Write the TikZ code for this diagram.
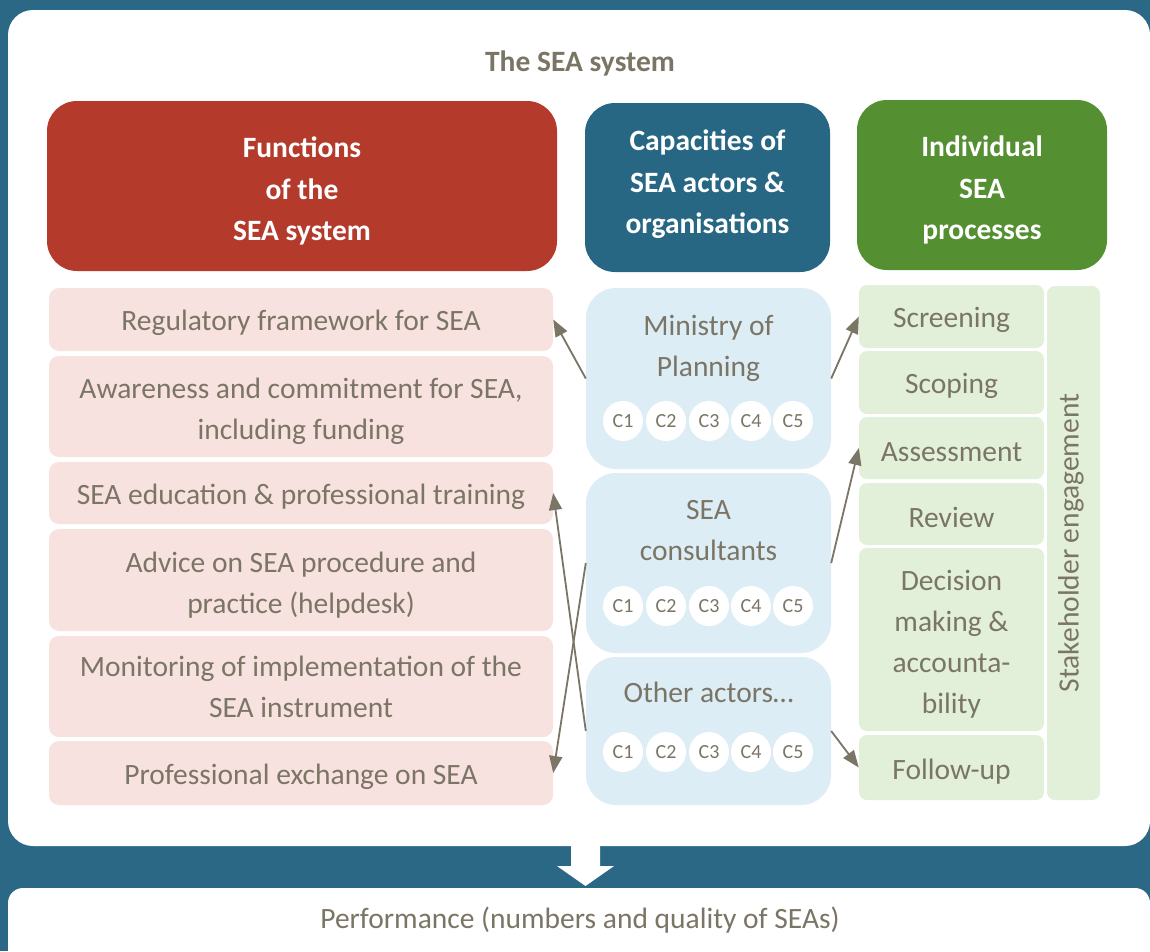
\documentclass[tikz,border=0pt]{standalone}
\usepackage{fontspec}
\setmainfont{Carlito}
\usetikzlibrary{arrows.meta,calc}
\definecolor{bgblue}{HTML}{2A6886}
\definecolor{hred}{HTML}{B43A2C}
\definecolor{hblue}{HTML}{286784}
\definecolor{hgreen}{HTML}{548F31}
\definecolor{lpink}{HTML}{F8E2E0}
\definecolor{lblue}{HTML}{DDEDF6}
\definecolor{lgreen}{HTML}{E2F0D9}
\definecolor{txtgray}{HTML}{7B7565}
\newcommand{\lowstrut}{\rule{0pt}{30pt}}
\begin{document}
\begin{tikzpicture}[x=1pt,y=-1pt,
  body/.style={inner sep=0pt, align=center, text=txtgray, font=\fontsize{29.5}{41}\selectfont},
  lowtext/.style={execute at begin node={\rule{0pt}{28pt}}},
  header/.style={rounded corners=30pt, inner sep=0pt},
  headtext/.style={inner sep=0pt, align=center, text=white, font=\fontsize{29.5}{41.5}\selectfont\bfseries},
  funcbox/.style={body, lowtext, fill=lpink, rounded corners=10pt, minimum width=504pt},
  actorbox/.style={fill=lblue, rounded corners=30pt, minimum width=245pt, inner sep=0pt},
  procbox/.style={body, lowtext, fill=lgreen, rounded corners=8pt, minimum width=185pt},
  capcircle/.style={circle, fill=white, minimum size=40pt, inner sep=0pt, text=txtgray, font=\fontsize{20}{22}\selectfont},
  conn/.style={draw=txtgray, line width=1.8pt, -{Triangle[length=17pt,width=13pt]}}
]
\useasboundingbox (0,0) rectangle (1150,951);
\clip (0,0) rectangle (1150,951);
\fill[bgblue] (0,0) rectangle (1150,951);
\fill[white, rounded corners=25pt] (8,10) rectangle (1150,846);
\fill[white, rounded corners=15pt] (8,888) rectangle (1150,990);
\fill[white] (571,846) -- (600,846) -- (600,866) -- (614,866) -- (585.5,886) -- (557,866) -- (571,866) -- cycle;

\node[text=txtgray, font=\fontsize{29.5}{32}\selectfont\bfseries] (title) at (580,63) {The SEA system};
\node[body] (perf) at (580,920) {Performance (numbers and quality of SEAs)};

% headers
\node[header, fill=hred, minimum width=510pt, minimum height=170pt] (hfun) at (302,186) {};
\node[header, fill=hblue, minimum width=245pt, minimum height=169pt] (hcap) at (707.5,187.5) {};
\node[header, fill=hgreen, minimum width=250pt, minimum height=170pt] (hind) at (982,185) {};
\node[headtext] (hfunt) at (302,191) {Functions\\of the\\SEA system};
\node[headtext] (hcapt) at (707.5,184.5) {Capacities of\\SEA actors \&\\organisations};
\node[headtext] (hindt) at (982,190) {Individual\\SEA\\processes};

% functions
\node[funcbox, minimum height=63pt] (reg) at (301,319.5) {Regulatory framework for SEA};
\node[funcbox, minimum height=101pt] (awa) at (301,406.5) {\lowstrut Awareness and commitment for SEA,\\including funding};
\node[funcbox, minimum height=62pt] (edu) at (301,493) {SEA education \& professional training};
\node[funcbox, minimum height=102pt] (adv) at (301,580) {\lowstrut Advice on SEA procedure and\\practice (helpdesk)};
\node[funcbox, minimum height=101pt] (mon) at (301,686.5) {Monitoring of implementation of the\\SEA instrument};
\node[funcbox, minimum height=64pt] (prof) at (301,773) {Professional exchange on SEA};

% actors
\node[actorbox, minimum height=181pt] (min) at (708.5,378.5) {};
\node[actorbox, minimum height=180pt] (cons) at (708.5,563) {};
\node[actorbox, minimum height=148pt] (oth) at (708.5,731) {};
\node[body] (mint) at (708.5,348) {Ministry of\\Planning};
\node[body] (const) at (708.5,531) {SEA\\consultants};
\node[body] (otht) at (708.5,692) {Other actors…};
\foreach \r/\yy in {m/421, c/606, o/752} {
  \foreach \i/\xx in {1/623, 2/666, 3/709, 4/751, 5/793} {
    \node[capcircle] (\r\i) at (\xx,\yy) {C\i};
  }
}

% processes
\node[procbox, minimum height=63pt] (scr) at (951.5,316.5) {Screening};
\node[procbox, minimum height=63pt] (sco) at (951.5,382.5) {Scoping};
\node[procbox, minimum height=62pt] (ass) at (951.5,448) {Assessment};
\node[procbox, minimum height=62pt] (rev) at (951.5,514) {Review};
\node[procbox, minimum height=183pt] (dec) at (951.5,639.5) {\lowstrut Decision\\making \&\\accounta-\\bility};
\node[procbox, minimum height=65pt] (fol) at (951.5,767.5) {Follow-up};
\node[body, fill=lgreen, rounded corners=8pt, minimum width=53pt, minimum height=514pt] (stk) at (1073.5,543) {};
\node[body, rotate=90] (stkt) at (1071,543) {Stakeholder engagement};

% connectors
\draw[conn] (min.west) -- (reg.east);
\draw[conn] (min.east) -- (scr.west);
\draw[conn] (cons.east) -- (ass.west);
\draw[conn] (cons.west) -- (prof.east);
\draw[conn] (oth.west) -- (edu.east);
\draw[conn] (oth.east) -- (fol.west);
\end{tikzpicture}
\end{document}
